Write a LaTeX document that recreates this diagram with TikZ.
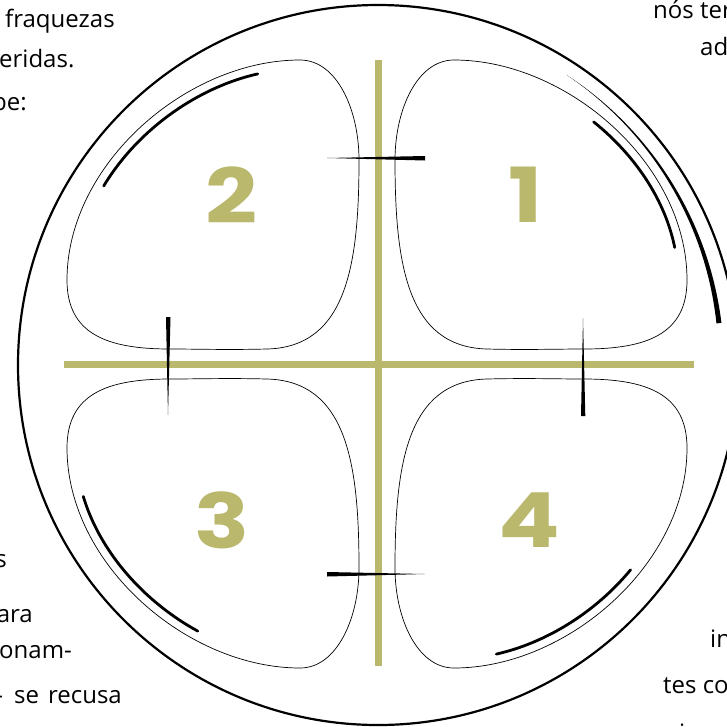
\documentclass[tikz,border=0pt]{standalone}
\usepackage{fontspec}
\setmainfont{Open Sans}
\newfontfamily\digitfont{Poppins}
\definecolor{crossolive}{RGB}{186,184,108}
\begin{document}
\begin{tikzpicture}[x=1pt,y=-1pt,
  blob/.style={draw=black, line width=0.7pt},
  bar/.style={draw=crossolive, line width=7pt},
  brush/.style={draw=black, line width=2.8pt, line cap=round},
  digit/.style={text=crossolive, inner sep=0pt, font=\digitfont\bfseries\fontsize{76}{76}\selectfont},
  txt/.style={inner sep=0pt, font=\fontsize{24}{24}\selectfont},
  tick/.style={fill=black},
  declare function={
    bx(\t)=(1-\t)^3*(-310)+3*(1-\t)^2*\t*(-310)+3*(1-\t)*\t^2*(-190)+\t^3*(-77);
    by(\t)=(1-\t)^3*(-84)+3*(1-\t)^2*\t*(-200)+3*(1-\t)*\t^2*(-304)+\t^3*(-304);
    bdx(\t)=24*(1-\t)*\t+11.3*\t^2;
    bdy(\t)=-11.6*(1-\t)^2-20.8*(1-\t)*\t;
    bnn(\t)=sqrt(bdx(\t)^2+bdy(\t)^2);
  },
  ]
\useasboundingbox (0,0) rectangle (727,726);
\node[draw, circle, minimum size=720pt, line width=2.2pt, inner sep=0pt] (ring) at (378,365) {};
% cross
\coordinate (vt) at (378,60); \coordinate (vb) at (378,666);
\coordinate (hl) at (64,364); \coordinate (hr) at (694,364);
\draw[bar] (vt) -- (vb);
\draw[bar] (hl) -- (hr);
% blobs with inner brush arcs
\foreach \sx/\sy/\ta/\tb in {1/1/0.3/0.87, -1/1/0.1/0.55, 1/-1/0.15/0.68, -1/-1/0.4/0.87}{
\begin{scope}[shift={(377,364)}, xscale=\sx, yscale=\sy]
\draw[blob]
 (-77,-304) .. controls (-40,-304) and (-18,-254) .. (-18,-204)
 .. controls (-18,-100) and (-30,-17) .. (-110,-15)
 .. controls (-150,-14) and (-180,-15) .. (-207,-15)
 .. controls (-270,-15) and (-310,-30) .. (-310,-84)
 .. controls (-310,-200) and (-190,-304) .. (-77,-304) -- cycle;
\draw[brush] plot[domain=\ta:\tb, samples=40, smooth]
 ({bx(\x)-9*bdy(\x)/bnn(\x)}, {by(\x)+9*bdx(\x)/bnn(\x)});
\end{scope}
}
% ticks
\fill[tick] (327,158) -- (425,156) -- (425,160.5) -- cycle;
\fill[tick] (166,317) -- (170.5,317) -- (168,415) -- cycle;
\fill[tick] (583,318) -- (585.3,416) -- (581,416) -- cycle;
\fill[tick] (327,572) -- (425,574) -- (327,576.5) -- cycle;
% outer tapered arc
\fill plot[domain=57:7, samples=50] ({378+346*cos(\x)},{365-346*sin(\x)})
 -- plot[domain=7:57, samples=50] ({378+(346-5*(57-\x)/50)*cos(\x)},{365-(346-5*(57-\x)/50)*sin(\x)}) -- cycle;
% digits
\node[digit] (n2) at (232,195) {\scalebox{1.2}[1]{2}};
\node[digit] (n1) at (526,195) {\scalebox{1.2}[1]{1}};
\node[digit] (n3) at (222,520) {\scalebox{1.2}[1]{3}};
\node[digit] (n4) at (529,520) {\scalebox{1.2}[1]{4}};
% text fragments
\node[txt, anchor=base west] (t1) at (5,27) {fraquezas};
\node[txt, anchor=base west] (t2) at (-1,67) {eridas.};
\node[txt, anchor=base east] (t3) at (27,110) {be:};
\node[txt, anchor=base west] (t4) at (653,18) {nós ter};
\node[txt, anchor=base west] (t5) at (700,55) {ad};
\node[txt, anchor=base west] (t6) at (710,647) {in};
\node[txt, anchor=base west] (t7) at (663,693) {tes co};
\node[txt, anchor=base west] (t12) at (679,741) {i};
\node[txt, anchor=base east] (t8) at (7,567) {s};
\node[txt, anchor=base east] (t9) at (33,622) {ara};
\node[txt, anchor=base east] (t10) at (72,658) {onam-};
\node[txt, anchor=base east] (t11) at (122,703) {-\hspace{11pt}se\hspace{9pt}recusa};
\end{tikzpicture}
\end{document}
